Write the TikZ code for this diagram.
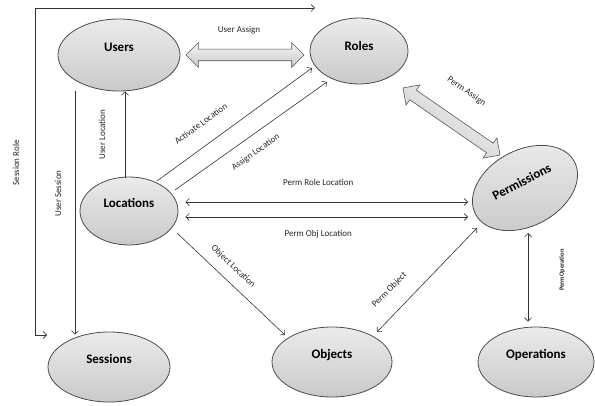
\documentclass[tikz,border=0pt]{standalone}
\usepackage{fontspec}
\setmainfont{Carlito}
\usepackage{tikz}
\usetikzlibrary{arrows.meta,shapes.geometric,shapes.arrows,calc}

\tikzset{barb/.tip={Straight Barb[length=3.5pt,width=7pt]}}

\begin{document}
\begin{tikzpicture}[x=1pt, y=-1pt,
					entity/.style={ellipse, draw=black!70, line width=0.8pt, top color=gray!16, bottom color=gray!42,
						minimum width=122pt, minimum height=72pt, text depth=16pt, font=\fontsize{13}{15}\selectfont\bfseries},
					fatarrow/.style={double arrow, draw=black!65, line width=0.6pt, top color=gray!8, bottom color=gray!42,
						inner xsep=0pt, inner ysep=5.5pt, double arrow head extend=6.5pt, minimum height=118pt},
					link/.style={-barb, line width=0.6pt, draw=black!80},
					both/.style={barb-barb, line width=0.6pt, draw=black!80},
					lbl/.style={font=\fontsize{9}{10}\selectfont, inner sep=1pt, text=black!85}]
	\useasboundingbox (0,0) rectangle (595,406);

	% the entities
	\node[entity] (users) at (119,55) {Users};
	\node[entity, minimum width=98pt, minimum height=66pt, text depth=10pt] (roles) at (359,51) {Roles};
	\node[entity, minimum width=98pt, minimum height=68pt] (locations) at (129,211) {Locations};
	\node[entity, rotate=28, minimum width=112pt, minimum height=76pt, text depth=14pt] (perms) at (525,188) {Permissions};
	\node[entity, minimum height=70pt] (sessions) at (109,367) {Sessions};
	\node[entity, minimum width=120pt, minimum height=70pt] (objects) at (332,362) {Objects};
	\node[entity, minimum width=116pt, minimum height=70pt] (operations) at (536,362) {Operations};

	% assignments
	\path (users.east) -- node[fatarrow] (userassign) {} (users.east -| roles.west);
	\node[lbl, above=20pt, xshift=-6pt] (userassignlbl) at (userassign) {User Assign};
	\path ($(roles)+(44,37)$) -- node[fatarrow, sloped, shading angle=-35] (permassign) {}
		node[lbl, sloped, pos=0.46, above=28pt] {Perm Assign} ($(perms)+(-25,-33)$);

	% session role
	\coordinate (srbot) at (47,335);
	\coordinate (srtop) at (315,8);
	\draw[both] (srbot) -- ++(-12,0) |- node[lbl, pos=0.263, xshift=-19pt, rotate=90] {Session Role} (srtop);

	% location links
	\draw[link] ($(locations.north)+(-4,1)$) -- node[lbl, midway, xshift=-23pt, rotate=90] {User Location} ($(users.south)+(6,0)$);
	\draw[link] ($(users.south)+(-44,0)$) -- node[lbl, pos=0.42, xshift=-17pt, rotate=90] {User Session} ($(sessions.north)+(-34,3)$);
	\draw[link] ($(locations)+(28,-30)$) -- node[lbl, sloped, pos=0.36, above=16pt] {Activate Location} ($(roles)+(-47,17)$);
	\draw[link] ($(locations)+(46,-21)$) -- node[lbl, sloped, pos=0.47, below=11pt] {Assign Location} ($(roles)+(-32,31)$);
	\draw[both] ($(locations.east)+(7,-9)$) -- node[lbl, pos=0.47, above=15pt] {Perm Role Location} ($(perms)+(-57,14)$);
	\draw[both] ($(locations.east)+(7,6)$) -- node[lbl, pos=0.47, below=12pt] {Perm Obj Location} ($(perms)+(-57,29)$);
	\draw[link] ($(locations)+(48,22)$) -- node[lbl, sloped, pos=0.43, above=9pt] {Object Location} ($(objects)+(-47,-27)$);

	% permission links
	\draw[both] ($(objects)+(45,-30)$) -- node[lbl, sloped, pos=0.27, above=15pt] {Perm Object} ($(perms)+(-48,40)$);
	\draw[both] ($(perms)+(3,45)$) -- node[lbl, pos=0.42, xshift=34pt, rotate=90, font=\fontsize{6.5}{7}\selectfont\bfseries] {PermOperation} ($(operations.north)+(-8,-5)$);
\end{tikzpicture}
\end{document}
